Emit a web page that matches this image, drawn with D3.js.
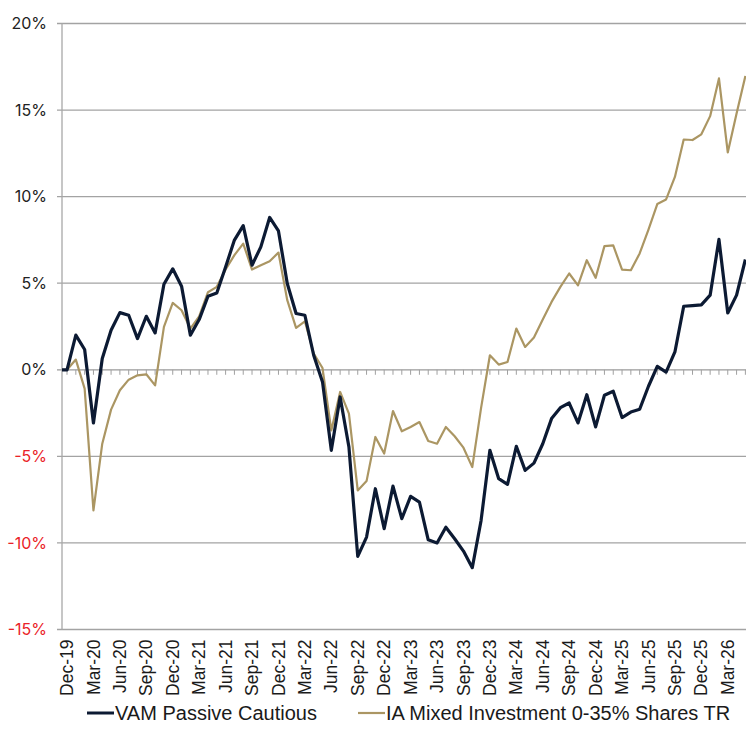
<!DOCTYPE html>
<html>
<head>
<meta charset="utf-8">
<script src="https://cdn.jsdelivr.net/npm/d3@7"></script>
<style>
  html, body { margin: 0; padding: 0; background: #fff; }
  svg { display: block; }
</style>
</head>
<body>
<svg id="chart" width="746" height="740"></svg>
<script>
// ---- Data ----
const months = [
  "Dec-19",
  "Jan-20","Feb-20","Mar-20","Apr-20","May-20","Jun-20","Jul-20","Aug-20","Sep-20","Oct-20","Nov-20","Dec-20",
  "Jan-21","Feb-21","Mar-21","Apr-21","May-21","Jun-21","Jul-21","Aug-21","Sep-21","Oct-21","Nov-21","Dec-21",
  "Jan-22","Feb-22","Mar-22","Apr-22","May-22","Jun-22","Jul-22","Aug-22","Sep-22","Oct-22","Nov-22","Dec-22",
  "Jan-23","Feb-23","Mar-23","Apr-23","May-23","Jun-23","Jul-23","Aug-23","Sep-23","Oct-23","Nov-23","Dec-23",
  "Jan-24","Feb-24","Mar-24","Apr-24","May-24","Jun-24","Jul-24","Aug-24","Sep-24","Oct-24","Nov-24","Dec-24",
  "Jan-25","Feb-25","Mar-25","Apr-25","May-25","Jun-25","Jul-25","Aug-25","Sep-25","Oct-25","Nov-25","Dec-25",
  "Jan-26","Feb-26","Mar-26","Apr-26","May-26"
];

const vamPassiveCautious = [
  0.0,
  2.0, 1.17, -3.07, 0.65, 2.28, 3.3, 3.15, 1.8, 3.09, 2.13, 4.94, 5.83,
  4.83, 2.0, 2.9, 4.25, 4.44, 5.94, 7.49, 8.33, 6.04, 7.1, 8.8, 8.02,
  4.98, 3.25, 3.15, 0.84, -0.7, -4.65, -1.57, -4.46, -10.78, -9.66, -6.87, -9.18,
  -6.72, -8.6, -7.31, -7.64, -9.82, -10.0, -9.09, -9.76, -10.47, -11.43, -8.7, -4.65,
  -6.29, -6.62, -4.42, -5.81, -5.39, -4.27, -2.82, -2.19, -1.92, -3.07, -1.44, -3.3,
  -1.47, -1.24, -2.76, -2.44, -2.28, -0.95, 0.2, -0.13, 1.03, 3.67, 3.71, 3.75,
  4.31, 7.53, 3.28, 4.31, 6.37
];

const iaMixed035 = [
  0.0,
  0.59, -1.09, -8.12, -4.27, -2.3, -1.18, -0.57, -0.32, -0.26, -0.9, 2.48, 3.86,
  3.44, 2.38, 3.09, 4.48, 4.79, 5.79, 6.62, 7.29, 5.79, 6.04, 6.27, 6.77,
  4.02, 2.42, 2.8, 0.94, 0.1, -3.5, -1.28, -2.53, -6.97, -6.43, -3.88, -4.84,
  -2.38, -3.55, -3.3, -3.02, -4.11, -4.27, -3.3, -3.84, -4.5, -5.62, -2.2, 0.84,
  0.3, 0.45, 2.38, 1.32, 1.86, 2.9, 3.92, 4.79, 5.56, 4.88, 6.33, 5.31,
  7.14, 7.18, 5.79, 5.75, 6.72, 8.1, 9.57, 9.84, 11.14, 13.3, 13.27, 13.6,
  14.65, 16.83, 12.55, 14.8, 16.97
];

const xTickLabels = [
  "Dec-19","Mar-20","Jun-20","Sep-20","Dec-20","Mar-21","Jun-21","Sep-21","Dec-21",
  "Mar-22","Jun-22","Sep-22","Dec-22","Mar-23","Jun-23","Sep-23","Dec-23",
  "Mar-24","Jun-24","Sep-24","Dec-24","Mar-25","Jun-25","Sep-25","Dec-25","Mar-26"
];
const yTicks = [-15, -10, -5, 0, 5, 10, 15, 20];

const seriesNames = ["VAM Passive Cautious", "IA Mixed Investment 0-35% Shares TR"];

// ---- Layout ----
const W = 746, H = 740;
const plot = { left: 62, right: 746, top: 23.5, bottom: 629.5 };
const colors = ["#0c1a33", "#ab9663"];
const widths = [3.2, 2.2];

const svg = d3.select("#chart");

const x = d3.scaleLinear()
  .domain([-0.57, 77.07])
  .range([plot.left, plot.right]);

const y = d3.scaleLinear()
  .domain([-15, 20])
  .range([plot.bottom, plot.top]);

// gridlines
svg.append("g")
  .selectAll("line")
  .data(yTicks)
  .join("line")
  .attr("x1", plot.left - 5)
  .attr("x2", plot.right)
  .attr("y1", d => y(d))
  .attr("y2", d => y(d))
  .attr("stroke", d => d === 0 ? "#9a9a9a" : "#a3a3a3")
  .attr("stroke-width", 1.3);

// y axis line
svg.append("line")
  .attr("x1", plot.left).attr("x2", plot.left)
  .attr("y1", y(20)).attr("y2", y(-15))
  .attr("stroke", "#a8a8a8")
  .attr("stroke-width", 1.3);

// monthly tick marks on zero line
svg.append("g")
  .selectAll("line")
  .data(months.map((m, i) => i))
  .join("line")
  .attr("x1", d => x(d)).attr("x2", d => x(d))
  .attr("y1", y(0)).attr("y2", y(0) + 5)
  .attr("stroke", "#a0a0a0")
  .attr("stroke-width", 1);

// y labels
svg.append("g")
  .selectAll("text")
  .data(yTicks)
  .join("text")
  .attr("x", plot.left - 15)
  .attr("y", d => y(d))
  .attr("dy", "0.35em")
  .attr("text-anchor", "end")
  .attr("font-family", "Inter, 'Noto Sans', sans-serif")
  .attr("font-size", 16)
  .attr("fill", d => d < 0 ? "#ea2228" : "#222")
  .text(d => d + "%");

// x labels (rotated)
const labelIdx = xTickLabels.map(l => months.indexOf(l));
svg.append("g")
  .selectAll("text")
  .data(labelIdx)
  .join("text")
  .attr("transform", d => `translate(${x(d)},${plot.bottom + 10}) rotate(-90)`)
  .attr("dy", "0.35em")
  .attr("text-anchor", "end")
  .attr("font-family", "'Liberation Sans', Arial, sans-serif")
  .attr("font-size", 17.5)
  .attr("fill", "#1a1a1a")
  .text(d => months[d]);

// lines
const line = d3.line()
  .x(d => x(d[0]))
  .y(d => y(d[1]));

[iaMixed035, vamPassiveCautious].forEach((vals, k) => {
  const si = k === 0 ? 1 : 0;
  const pts = [[x.domain()[0], vals[0]]].concat(vals.map((v, i) => [i, v]));
  svg.append("path")
    .datum(pts)
    .attr("fill", "none")
    .attr("stroke", colors[si])
    .attr("stroke-width", widths[si])
    .attr("stroke-linejoin", "round")
    .attr("d", line);
});

// legend
const legendY = 713;
const legendItems = [
  { x: 87, name: seriesNames[0], color: colors[0], w: 3 },
  { x: 358, name: seriesNames[1], color: colors[1], w: 2.2 }
];
const lg = svg.append("g");
legendItems.forEach(it => {
  lg.append("line")
    .attr("x1", it.x).attr("x2", it.x + 27)
    .attr("y1", legendY).attr("y2", legendY)
    .attr("stroke", it.color).attr("stroke-width", it.w);
  lg.append("text")
    .attr("x", it.x + 28)
    .attr("y", legendY)
    .attr("dy", "0.35em")
    .attr("font-family", "'Liberation Sans', Arial, sans-serif")
    .attr("font-size", 20)
    .attr("fill", "#1a1a1a")
    .text(it.name);
});
</script>
</body>
</html>
